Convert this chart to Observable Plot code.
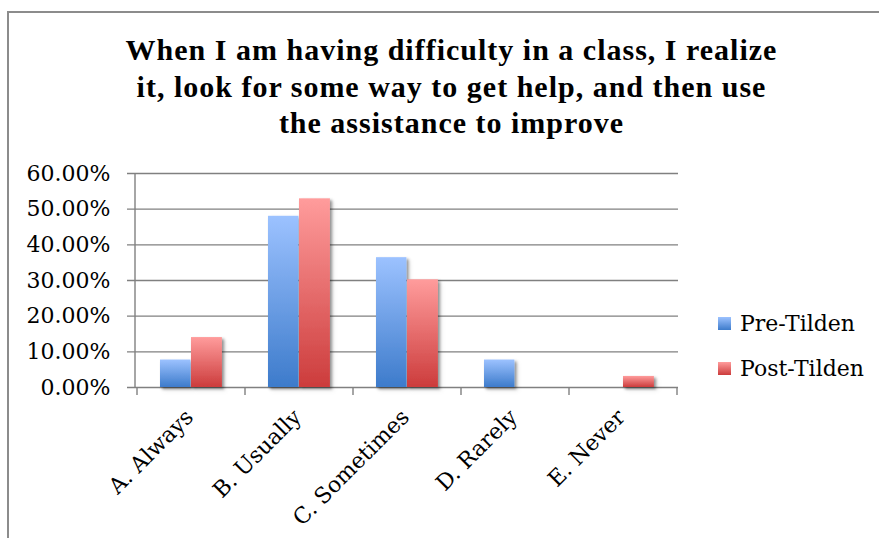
<!DOCTYPE html>
<html>
<head>
<meta charset="utf-8">
<script src="https://cdn.jsdelivr.net/npm/d3@7"></script>
<script src="https://cdn.jsdelivr.net/npm/@observablehq/plot@0.6"></script>
<style>
  html, body { margin: 0; padding: 0; background: #fff; overflow: hidden; }
  #page { position: relative; width: 879px; height: 538px; background: #fff; }
  #frame { position: absolute; left: 7px; top: 11px; width: 900px; height: 560px; border: 2px solid #8c8c8c; box-sizing: border-box; }
  #title { position: absolute; left: 12px; top: 32px; width: 879px; text-align: center;
           font-family: "Liberation Serif", serif; font-weight: bold; font-size: 30px; letter-spacing: 1px; line-height: 36.5px; color: #000; }
  #chart { position: absolute; left: 0; top: 150px; }
  #legend { position: absolute; left: 718px; top: 309px; font-family: "DejaVu Serif", serif; font-size: 22px; color: #000; }
  .item { display: flex; align-items: center; height: 28px; margin-bottom: 17px; }
  .sw { width: 13px; height: 13px; margin-right: 9px; }
</style>
</head>
<body>
<div id="page">
  <div id="frame"></div>
  <div id="title"></div>
  <div id="chart"></div>
  <div id="legend"></div>
</div>
<script>
const titleLines = ["When I am having difficulty in a class, I realize",
                    "it, look for some way to get help, and then use",
                    "the assistance to improve"];
const categories = ["A. Always", "B. Usually", "C. Sometimes", "D. Rarely", "E. Never"];
const seriesNames = ["Pre-Tilden", "Post-Tilden"];
const preTilden  = [7.7, 48.0, 36.4, 7.7, 0];
const postTilden = [14.0, 52.9, 30.2, 0, 3.1];
const yTicks = [0, 10, 20, 30, 40, 50, 60];

const blueTop = "#9cc2ff", blueBottom = "#3d7bcb";
const redTop = "#ff9c9c", redBottom = "#cc3c3c";

document.getElementById("title").innerHTML = titleLines.join("<br>");

const data = categories.map((c, i) => ({cat: c, pre: preTilden[i], post: postTilden[i]}));

const W = 879, H = 388;
const mL = 135, mR = 201, mT = 23, mB = 151;
const band = (W - mL - mR) / categories.length;

const plot = Plot.plot({
  width: W, height: H,
  marginLeft: mL, marginRight: mR, marginTop: mT, marginBottom: mB,
  style: {fontFamily: "DejaVu Serif", fontSize: "22px", color: "#000", background: "transparent"},
  x: {domain: categories, padding: 0, label: null},
  y: {domain: [0, 60], label: null},
  marks: [
    (index, scales, values, dims) => {
      const g = d3.create("svg:g");
      const defs = g.append("defs");
      const mk = (id, top, bottom) => {
        const lg = defs.append("linearGradient").attr("id", id).attr("x1", 0).attr("y1", 0).attr("x2", 0).attr("y2", 1);
        lg.append("stop").attr("offset", "0%").attr("stop-color", top);
        lg.append("stop").attr("offset", "100%").attr("stop-color", bottom);
      };
      mk("gBlue", blueTop, blueBottom);
      mk("gRed", redTop, redBottom);
      const f = defs.append("filter").attr("id", "shadow").attr("x", "-20%").attr("y", "-20%").attr("width", "150%").attr("height", "150%");
      f.append("feDropShadow").attr("dx", 2).attr("dy", 2).attr("stdDeviation", 1.5).attr("flood-color", "#000").attr("flood-opacity", 0.25);
      return g.node();
    },
    Plot.ruleY(yTicks, {stroke: "#808080", strokeWidth: 1.4, insetLeft: -8}),
    (index, scales, values, dims) => {
      const g = d3.create("svg:g").attr("stroke", "#808080").attr("stroke-width", 1.4);
      const x0 = dims.marginLeft, yb = dims.height - dims.marginBottom;
      g.append("line").attr("x1", x0).attr("x2", x0).attr("y1", dims.marginTop).attr("y2", yb);
      const edges = categories.map(c => scales.x(c)).concat([scales.x(categories[categories.length - 1]) + scales.x.bandwidth()]);
      edges.forEach(e => g.append("line").attr("x1", e).attr("x2", e).attr("y1", yb).attr("y2", yb + 8));
      return g.node();
    },
    Plot.barY(data, {x: "cat", y: "pre", fill: "url(#gBlue)", insetLeft: 23, insetRight: band - 54}),
    Plot.barY(data, {x: "cat", y: "post", fill: "url(#gRed)", insetLeft: 54, insetRight: band - 85.5}),
    Plot.axisY({ticks: yTicks, tickSize: 0, tickPadding: 25, tickFormat: d => d.toFixed(2) + "%", fontSize: 22}),
    Plot.axisX({tickSize: 0, tickPadding: 26, dx: -2, tickRotate: -45, fontSize: 22})
  ]
});
plot.querySelectorAll("rect").forEach(r => {
  const f = r.getAttribute("fill") || (r.parentNode && r.parentNode.getAttribute("fill"));
  if (f && f.startsWith("url(")) r.setAttribute("filter", "url(#shadow)");
});
plot.querySelectorAll("g[fill^='url(']").forEach(g => g.setAttribute("filter", "url(#shadow)"));
document.getElementById("chart").appendChild(plot);

const legend = document.getElementById("legend");
const grads = [[blueTop, blueBottom], [redTop, redBottom]];
seriesNames.forEach((name, i) => {
  const item = document.createElement("div");
  item.className = "item";
  const sw = document.createElement("div");
  sw.className = "sw";
  sw.style.background = `linear-gradient(${grads[i][0]}, ${grads[i][1]})`;
  const t = document.createElement("span");
  t.textContent = name;
  item.appendChild(sw); item.appendChild(t);
  legend.appendChild(item);
});
</script>
</body>
</html>
